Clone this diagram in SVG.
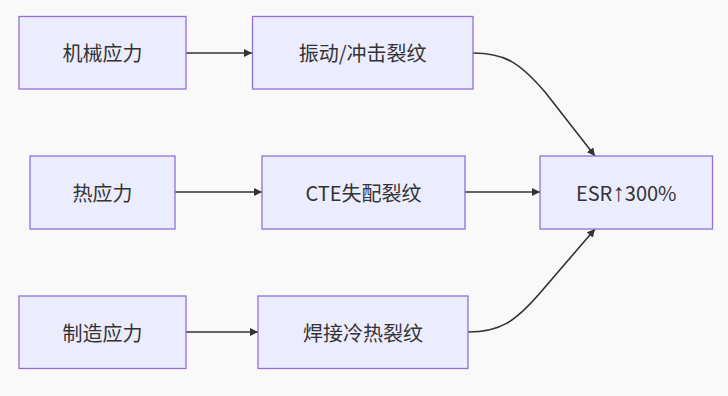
<svg xmlns="http://www.w3.org/2000/svg" width="728" height="396" viewBox="0 0 728 396">
<defs>
<style>
.node rect{fill:#ECECFF;stroke:#9370DB;stroke-width:1.3}
.node text{font-family:"Noto Sans CJK SC","Microsoft YaHei",sans-serif;font-size:20px;fill:#333;text-anchor:middle;dominant-baseline:central}
.node tspan.ar{font-family:"Liberation Sans","DejaVu Sans",sans-serif;font-size:25px}
.edges path{fill:none;stroke:#333;stroke-width:1.6}
</style>
<marker id="arr" viewBox="0 0 10 10" refX="10" refY="5" markerWidth="8" markerHeight="8" markerUnits="userSpaceOnUse" orient="auto">
<path d="M0,0 L10,5 L0,10 z" fill="#333"/>
</marker>
</defs>
<rect width="728" height="396" fill="#F9F9F9"/>
<g class="edges">
<path d="M186,53 L252,53" marker-end="url(#arr)"/>
<path d="M473,53 C505,53 520,63 545,92 L595,156" marker-end="url(#arr)"/>
<path d="M175,192 L262,192" marker-end="url(#arr)"/>
<path d="M465,192 L540,192" marker-end="url(#arr)"/>
<path d="M186,332 L258,332" marker-end="url(#arr)"/>
<path d="M468,332 C500,332 515,322 540,293 L595,229" marker-end="url(#arr)"/>
</g>
<g id="A" class="node"><rect x="19" y="16.5" width="167" height="72.5"/><text x="102.5" y="52">机械应力</text></g>
<g id="B" class="node"><rect x="252.5" y="16.5" width="220.5" height="72.5"/><text x="362.7" y="52">振动/冲击裂纹</text></g>
<g id="C" class="node"><rect x="30" y="156" width="145" height="73"/><text x="102.5" y="192">热应力</text></g>
<g id="D" class="node"><rect x="262" y="156" width="203" height="73"/><text x="363.5" y="192">CTE失配裂纹</text></g>
<g id="E" class="node"><rect x="540" y="156" width="172.5" height="73"/><text x="626.2" y="192">ESR<tspan class="ar">↑</tspan>300%</text></g>
<g id="F" class="node"><rect x="19" y="296" width="167" height="72.5"/><text x="102.5" y="332">制造应力</text></g>
<g id="G" class="node"><rect x="258" y="296" width="210" height="72.5"/><text x="363" y="332">焊接冷热裂纹</text></g>
</svg>
